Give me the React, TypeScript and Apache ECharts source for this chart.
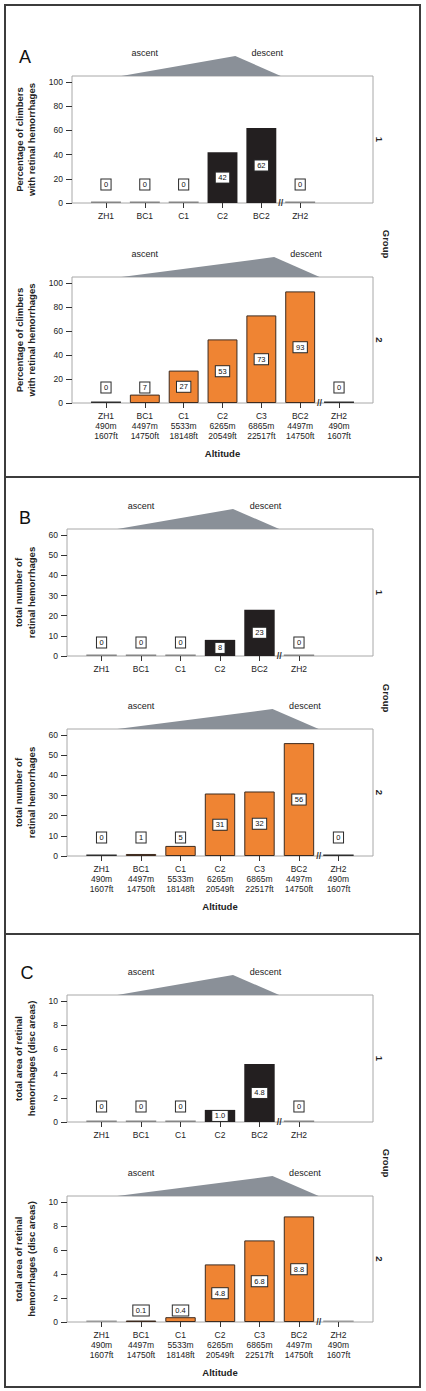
import React, { useEffect, useRef } from "react";
import * as echarts from "echarts";

// ---------- data ----------
const groupOneSites = ["ZH1", "BC1", "C1", "C2", "BC2", "ZH2"];
const groupTwoSites = ["ZH1", "BC1", "C1", "C2", "C3", "BC2", "ZH2"];
const groupTwoMetres = ["490m", "4497m", "5533m", "6265m", "6865m", "4497m", "490m"];
const groupTwoFeet = ["1607ft", "14750ft", "18148ft", "20549ft", "22517ft", "14750ft", "1607ft"];

const percentGroup1 = [0, 0, 0, 42, 62, 0];
const percentGroup2 = [0, 7, 27, 53, 73, 93, 0];
const countGroup1 = [0, 0, 0, 8, 23, 0];
const countGroup2 = [0, 1, 5, 31, 32, 56, 0];
const areaGroup1 = [0, 0, 0, 1.0, 4.8, 0];
const areaGroup2: (number | null)[] = [null, 0.1, 0.4, 4.8, 6.8, 8.8, null];

const percentTicks = [0, 20, 40, 60, 80, 100];
const countTicks = [0, 10, 20, 30, 40, 50, 60];
const areaTicks = [0, 2, 4, 6, 8, 10];

const percentName = "Percentage of climbers\nwith retinal hemorrhages";
const countName = "total number of\nretinal hemorrhages";
const areaName = "total area of retinal\nhemorrhages (disc areas)";

// ---------- layout / style ----------
const FONT = "'Liberation Sans', Arial, Helvetica, sans-serif";
const BLACK_BAR = "#231f20";
const ORANGE_BAR = "#ef8433";
const ORANGE_EDGE = "#3d2b1f";
const TRI = "#8a9098";
const TXT = "#222";

type ChartCfg = {
  group: 1 | 2;
  values: (number | null)[];
  ticks: number[];
  max: number;
  dec: number;
  yName: string;
  box: { l: number; t: number; r: number; b: number };
  nameGap: number;
  minOff: number;
};

const charts: ChartCfg[] = [
  { group: 1, values: percentGroup1, ticks: percentTicks, max: 105, dec: 0, yName: percentName, box: { l: 72, t: 76, r: 373, b: 203 }, nameGap: 24, minOff: 19 },
  { group: 2, values: percentGroup2, ticks: percentTicks, max: 105, dec: 0, yName: percentName, box: { l: 72, t: 277, r: 373, b: 403 }, nameGap: 24, minOff: 16 },
  { group: 1, values: countGroup1, ticks: countTicks, max: 63, dec: 0, yName: countName, box: { l: 67, t: 529, r: 373, b: 656 }, nameGap: 20, minOff: 14 },
  { group: 2, values: countGroup2, ticks: countTicks, max: 63, dec: 0, yName: countName, box: { l: 67, t: 729, r: 373, b: 856 }, nameGap: 20, minOff: 19 },
  { group: 1, values: areaGroup1, ticks: areaTicks, max: 10.5, dec: 1, yName: areaName, box: { l: 67, t: 995, r: 373, b: 1122 }, nameGap: 20, minOff: 16 },
  { group: 2, values: areaGroup2, ticks: areaTicks, max: 10.5, dec: 1, yName: areaName, box: { l: 67, t: 1196, r: 373, b: 1322 }, nameGap: 20, minOff: 12 },
];

const panels = [
  { letter: "A", top: 5, bottom: 477, lx: 25, ly: 57, groupY: 244 },
  { letter: "B", top: 477, bottom: 934, lx: 25, ly: 518, groupY: 698 },
  { letter: "C", top: 934, bottom: 1387, lx: 27, ly: 973, groupY: 1163 },
];

const fmt = (v: number, dec: number) => (v === 0 ? "0" : v.toFixed(dec));

function buildOption() {
  const grid: any[] = [];
  const xAxis: any[] = [];
  const yAxis: any[] = [];
  const series: any[] = [];

  charts.forEach((c, i) => {
    const w = c.box.r - c.box.l;
    const h = c.box.b - c.box.t;
    const band = w / 7.75;
    const cats =
      c.group === 1
        ? groupOneSites
        : groupTwoSites.map((s, j) => `${s}\n${groupTwoMetres[j]}\n${groupTwoFeet[j]}`);

    grid.push({
      left: c.box.l, top: c.box.t, width: w, height: h,
      show: true, borderColor: "#a8a8a8", borderWidth: 1, backgroundColor: "#fff",
      containLabel: false, outerBoundsMode: "none",
    });
    grid.push({
      left: c.box.l + 0.375 * band, top: c.box.t, width: cats.length * band, height: h,
      show: false, containLabel: false, outerBoundsMode: "none",
    });

    xAxis.push({ gridIndex: 2 * i, type: "value", min: 0, max: 1, show: false });
    xAxis.push({
      gridIndex: 2 * i + 1,
      type: "category",
      data: cats,
      boundaryGap: true,
      axisLine: { show: false },
      axisTick: { show: true, alignWithLabel: true, interval: 0, length: 5, lineStyle: { color: "#333", width: 1 } },
      axisLabel: { interval: 0, margin: 8, fontSize: 8.5, lineHeight: 10, color: TXT, fontFamily: FONT },
      splitLine: { show: false },
      name: c.group === 2 ? "Altitude" : "",
      nameLocation: "middle",
      nameGap: 45,
      nameTextStyle: { fontSize: 9.5, fontWeight: "bold", color: TXT, fontFamily: FONT },
    });

    yAxis.push({
      gridIndex: 2 * i,
      type: "value",
      min: 0,
      max: c.max,
      position: "left",
      axisLine: { show: false },
      axisTick: { show: true, length: 6, customValues: c.ticks, lineStyle: { color: "#333", width: 1 } },
      axisLabel: { customValues: c.ticks, margin: 9, fontSize: 8.5, color: TXT, fontFamily: FONT },
      splitLine: { show: false },
      name: c.yName,
      nameLocation: "middle",
      nameGap: c.nameGap,
      nameTextStyle: { fontSize: 9.5, fontWeight: "bold", lineHeight: 12.5, color: TXT, fontFamily: FONT, align: "center" },
    });
    yAxis.push({ gridIndex: 2 * i + 1, type: "value", min: 0, max: c.max, show: false });

    const baseColor = c.group === 1 ? BLACK_BAR : ORANGE_BAR;
    const data = c.values.map((v) => {
      if (v === null) {
        return { value: 0, label: { show: false }, itemStyle: { color: "#9a9a9a", borderWidth: 0 } };
      }
      const px = (v / c.max) * h;
      const useOffset = v === 0 || (c.group === 2 && px / 2 < c.minOff);
      const item: any = {
        value: v,
        label: useOffset
          ? { position: "insideBottom", distance: c.minOff - 5.5 }
          : { position: "inside" },
      };
      if (v === 0) {
        item.itemStyle = { color: c.group === 1 ? "#858585" : "#2e2e2e", borderWidth: 0 };
      }
      return item;
    });

    series.push({
      type: "bar",
      xAxisIndex: 2 * i + 1,
      yAxisIndex: 2 * i + 1,
      barWidth: "77%",
      barMinHeight: 1.5,
      data,
      itemStyle: {
        color: baseColor,
        borderColor: c.group === 1 ? BLACK_BAR : ORANGE_EDGE,
        borderWidth: c.group === 1 ? 0 : 1,
      },
      label: {
        show: true,
        formatter: (p: any) => fmt(p.value, c.dec),
        fontSize: 7.5,
        lineHeight: 8,
        color: "#111",
        fontFamily: FONT,
        backgroundColor: "#fff",
        borderColor: "#2a2a2a",
        borderWidth: 1,
        padding: [1, 2.5, 1, 2.5],
      },
    });
  });

  return {
    animation: false,
    backgroundColor: "#fff",
    textStyle: { fontFamily: FONT },
    grid,
    xAxis,
    yAxis,
    series,
  };
}

function buildGraphics(chart: echarts.ECharts) {
  const els: any[] = [];

  panels.forEach((p) => {
    els.push({
      type: "rect",
      shape: { x: 5, y: p.top, width: 415, height: p.bottom - p.top },
      style: { fill: "none", stroke: "#3c3c3c", lineWidth: 2 },
      z: 20,
    });
    els.push({
      type: "text",
      x: p.lx, y: p.ly,
      style: { text: p.letter, fontSize: 18, fontFamily: FONT, fill: "#111", align: "center", verticalAlign: "middle" },
    });
    els.push({
      type: "text",
      x: 386, y: p.groupY, rotation: -Math.PI / 2,
      style: { text: "Group", fontSize: 9.5, fontWeight: "bold", fontFamily: FONT, fill: TXT, align: "center", verticalAlign: "middle" },
    });
  });

  charts.forEach((c, i) => {
    const n = c.values.length;
    const px = (idx: number) => chart.convertToPixel({ xAxisIndex: 2 * i + 1 }, idx) as number;
    const band = px(1) - px(0);
    const base = chart.convertToPixel({ yAxisIndex: 2 * i + 1 }, 0) as number;
    const top = c.box.t;
    const bc2 = n - 2;
    const peak = n - 3;

    els.push({
      type: "polygon",
      shape: {
        points: [
          [px(0) + 0.4 * band, top],
          [px(peak) + 0.33 * band, top - 20],
          [px(bc2) + 0.5 * band, top],
        ],
      },
      style: { fill: TRI },
    });
    els.push({
      type: "text",
      x: px(1), y: top - 23,
      style: { text: "ascent", fontSize: 9, fontFamily: FONT, fill: TXT, align: "center", verticalAlign: "middle" },
    });
    els.push({
      type: "text",
      x: px(bc2) + 0.15 * band, y: top - 23,
      style: { text: "descent", fontSize: 9, fontFamily: FONT, fill: TXT, align: "center", verticalAlign: "middle" },
    });
    els.push({
      type: "text",
      x: (px(bc2) + px(n - 1)) / 2, y: base,
      z: 30,
      style: { text: "//", fontSize: 9, fontWeight: "bold", fontFamily: FONT, fill: "#333", align: "center", verticalAlign: "middle" },
    });
    els.push({
      type: "text",
      x: c.box.r + 6, y: (c.box.t + c.box.b) / 2, rotation: -Math.PI / 2,
      style: { text: String(c.group), fontSize: 9.5, fontWeight: "bold", fontFamily: FONT, fill: TXT, align: "center", verticalAlign: "middle" },
    });
  });

  return els;
}

export default function App() {
  const ref = useRef<HTMLDivElement>(null);
  useEffect(() => {
    if (!ref.current) return;
    const chart = echarts.init(ref.current, undefined, { renderer: "svg" });
    chart.setOption(buildOption() as any);
    chart.setOption({ graphic: buildGraphics(chart) } as any);
    return () => chart.dispose();
  }, []);
  return (
    <div
      ref={ref}
      style={{ position: "absolute", left: 0, top: 0, width: 426, height: 1391, background: "#fff" }}
    />
  );
}
